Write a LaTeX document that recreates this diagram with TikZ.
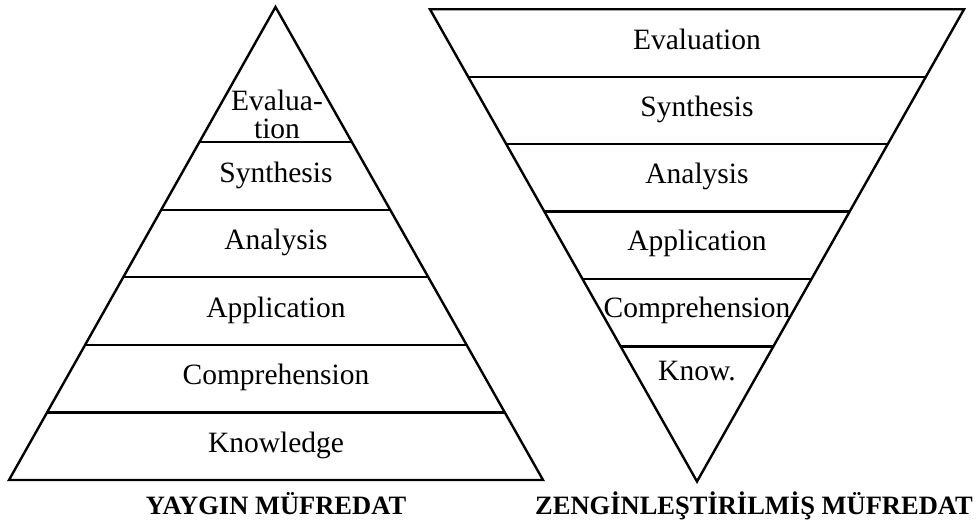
\documentclass[tikz,border=0pt]{standalone}
\usepackage{fontspec}
\setmainfont{Liberation Serif}
\usetikzlibrary{calc}
\begin{document}
\begin{tikzpicture}[x=1pt,y=-1pt,line width=2.4pt,line join=miter,
  lbl/.style={font=\fontsize{29.5}{28}\selectfont,inner sep=0pt,text height=20pt,text depth=6pt},
  ttl/.style={font=\fontsize{26.5}{26.5}\selectfont\bfseries,inner sep=0pt,anchor=base}]
\useasboundingbox (0,0) rectangle (979,526);
% left pyramid
\coordinate (LA) at (275.5,7);
\coordinate (LBL) at (9,480);
\coordinate (LBR) at (543,480);
\draw (LA) -- (LBL) -- (LBR) -- cycle;
\foreach \k in {1,...,5}{
  \draw ($(LA)!{(7-\k)/7}!(LBL)$) -- ($(LA)!{(7-\k)/7}!(LBR)$);
}
\node[lbl] (lk) at (276,445) {Knowledge};
\node[lbl] (lc) at (276,377.5) {Comprehension};
\node[lbl] (lap) at (276,310) {Application};
\node[lbl] (lan) at (276,243) {Analysis};
\node[lbl] (ls) at (276,176) {Synthesis};
\node[lbl,align=center,text height=,text depth=] (le) at (277,114) {Evalua-\\[0pt]tion};
% right inverted pyramid
\coordinate (RA) at (697,481.5);
\coordinate (RTL) at (430,9.3);
\coordinate (RTR) at (964,9.3);
\draw (RA) -- (RTL) -- (RTR) -- cycle;
\foreach \j in {2,...,6}{
  \draw ($(RA)!{\j/7}!(RTL)$) -- ($(RA)!{\j/7}!(RTR)$);
}
\node[lbl] (re) at (697,43) {Evaluation};
\node[lbl] (rs) at (697,110) {Synthesis};
\node[lbl] (ran) at (697,177) {Analysis};
\node[lbl] (rap) at (697,244) {Application};
\node[lbl] (rc) at (697,311) {Comprehension};
\node[lbl] (rk) at (697,373) {Know.};
% titles
\node[ttl] (t1) at (276,514) {YAYGIN MÜFREDAT};
\node[ttl] (t2) at (754,514) {ZENGİNLEŞTİRİLMİŞ MÜFREDAT};
\end{tikzpicture}
\end{document}
